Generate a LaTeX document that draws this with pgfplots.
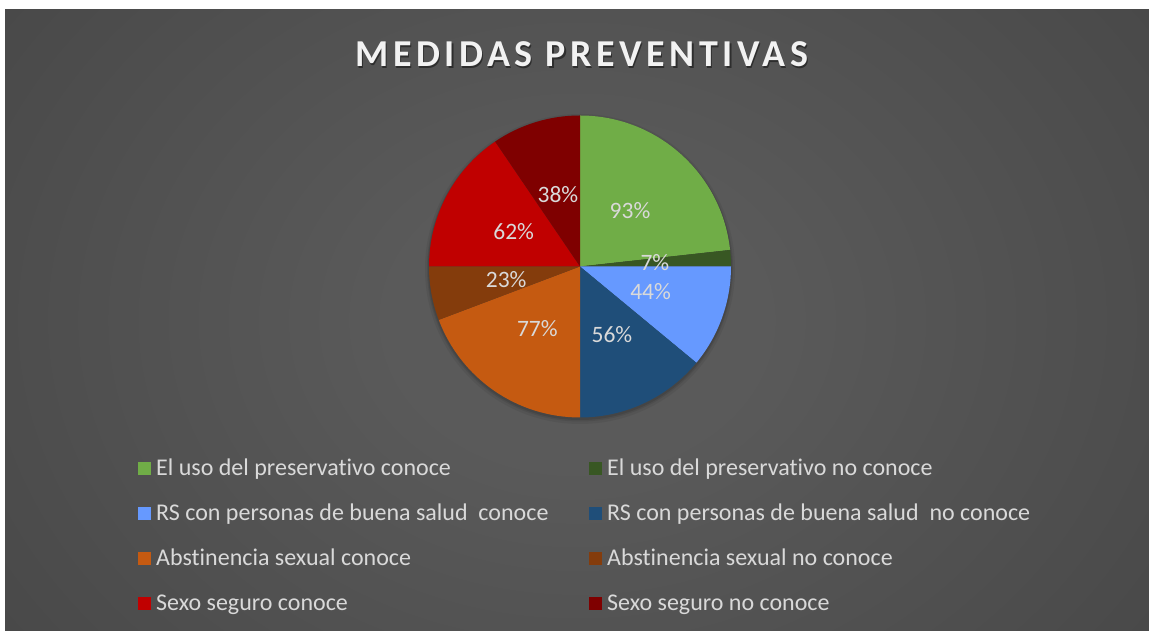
\documentclass[border=0pt]{standalone}
\usepackage{pgfplots}
\pgfplotsset{compat=1.18}
\usepackage{pgfplotstable}
\usepackage{fontspec}
\setmainfont{Carlito}[Ligatures=NoCommon]
\newfontfamily\titlefamily[LetterSpace=12,Ligatures=NoCommon]{Carlito}
\definecolor{cA}{HTML}{70AD47}
\definecolor{cB}{HTML}{385723}
\definecolor{cC}{HTML}{6699FF}
\definecolor{cD}{HTML}{1F4E79}
\definecolor{cE}{HTML}{C55A11}
\definecolor{cF}{HTML}{843C0C}
\definecolor{cG}{HTML}{C00000}
\definecolor{cH}{HTML}{7F0000}
\definecolor{lbl}{HTML}{D9D9D9}
\definecolor{bg0}{HTML}{5A5A5A}
\definecolor{bg1}{HTML}{474747}
\definecolor{bg2}{HTML}{313131}
\definecolor{bg3}{HTML}{252525}
\pgfdeclareradialshading{bgshade}{\pgfpointorigin}{color(0bp)=(bg0); color(8bp)=(bg0); color(33bp)=(bg1); color(50bp)=(bg2); color(71bp)=(bg3)}
\newcommand\lblfont{\fontsize{23.5}{28}\selectfont}
\newcommand\legfont{\fontsize{24}{29}\selectfont}
\newcommand\ttlfont{\titlefamily\fontsize{38}{44}\selectfont\bfseries}

\pgfplotstableread{
value color
93 cA
7 cB
44 cC
56 cD
77 cE
23 cF
62 cG
38 cH
}\piedata

\begin{document}
\begin{tikzpicture}[x=1pt,y=1pt]
\fill[white] (0,0) rectangle (1149,631);
\begin{scope}
\clip (5,0) rectangle (1149,621);
\shade[shading=bgshade] (5,-139) rectangle (1149,761);
\end{scope}
\begin{axis}[at={(0,0)}, anchor=south west, x=1pt, y=1pt,
  xmin=0, xmax=1149, ymin=0, ymax=631, hide axis, clip=false]
% soft shadow under the pie
\fill[black, opacity=0.06] (axis cs:580,362) circle[radius=155pt];
\fill[black, opacity=0.08] (axis cs:580,362.5) circle[radius=153pt];
\fill[black, opacity=0.10] (axis cs:580,363) circle[radius=152pt];
\pgfmathsetmacro\cum{0}
\pgfplotsforeachungrouped \i in {0,...,7}{%
  \pgfplotstablegetelem{\i}{value}\of\piedata \let\v\pgfplotsretval
  \pgfplotstablegetelem{\i}{color}\of\piedata \let\c\pgfplotsretval
  \pgfmathsetmacro\a{90-0.9*\cum}%
  \pgfmathsetmacro\b{90-0.9*(\cum+\v)}%
  \edef\doit{%
    \noexpand\fill[\c] (axis cs:580,364.5) -- ++(\a:151pt) arc[start angle=\a, end angle=\b, radius=151pt] -- cycle;%
  }\doit
  \pgfmathsetmacro\cum{\cum+\v}%
}
\pgfmathsetmacro\cum{0}
\pgfplotsforeachungrouped \i in {0,...,7}{%
  \pgfplotstablegetelem{\i}{value}\of\piedata \let\v\pgfplotsretval
  \pgfmathsetmacro\a{90-0.9*\cum}%
  \pgfmathsetmacro\b{90-0.9*(\cum+\v)}%
  \pgfmathsetmacro\m{(\a+\b)/2}%
  \edef\doit{%
    \noexpand\node[text=lbl, font=\noexpand\lblfont, inner sep=0pt] at ([shift={(\m:75pt)}]axis cs:580,364.5) {\v\noexpand\%};%
  }\doit
  \pgfmathsetmacro\cum{\cum+\v}%
}
% title
\node[anchor=base, font=\ttlfont, text=black, opacity=0.45] at (axis cs:583,562.8) {MEDIDAS PREVENTIVAS};
\node[anchor=base, font=\ttlfont, text=white!95!black] at (axis cs:581.8,564.3) {MEDIDAS PREVENTIVAS};
% legend
\fill[cA] (axis cs:137.5,155.5) rectangle (axis cs:150.5,168.5);
\node[anchor=base west, inner sep=0pt, text=lbl, font=\legfont] at (axis cs:156,155) {El uso del preservativo conoce};
\fill[cB] (axis cs:588.5,155.5) rectangle (axis cs:601.5,168.5);
\node[anchor=base west, inner sep=0pt, text=lbl, font=\legfont] at (axis cs:607,155) {El uso del preservativo no conoce};
\fill[cC] (axis cs:137.5,110.5) rectangle (axis cs:150.5,123.5);
\node[anchor=base west, inner sep=0pt, text=lbl, font=\legfont] at (axis cs:156,110) {RS con personas de buena salud~ conoce};
\fill[cD] (axis cs:588.5,110.5) rectangle (axis cs:601.5,123.5);
\node[anchor=base west, inner sep=0pt, text=lbl, font=\legfont] at (axis cs:607,110) {RS con personas de buena salud~ no conoce};
\fill[cE] (axis cs:137.5,65.5) rectangle (axis cs:150.5,78.5);
\node[anchor=base west, inner sep=0pt, text=lbl, font=\legfont] at (axis cs:156,65) {Abstinencia sexual conoce};
\fill[cF] (axis cs:588.5,65.5) rectangle (axis cs:601.5,78.5);
\node[anchor=base west, inner sep=0pt, text=lbl, font=\legfont] at (axis cs:607,65) {Abstinencia sexual no conoce};
\fill[cG] (axis cs:137.5,20.5) rectangle (axis cs:150.5,33.5);
\node[anchor=base west, inner sep=0pt, text=lbl, font=\legfont] at (axis cs:156,20) {Sexo seguro conoce};
\fill[cH] (axis cs:588.5,20.5) rectangle (axis cs:601.5,33.5);
\node[anchor=base west, inner sep=0pt, text=lbl, font=\legfont] at (axis cs:607,20) {Sexo seguro no conoce};
\end{axis}
\end{tikzpicture}
\end{document}
